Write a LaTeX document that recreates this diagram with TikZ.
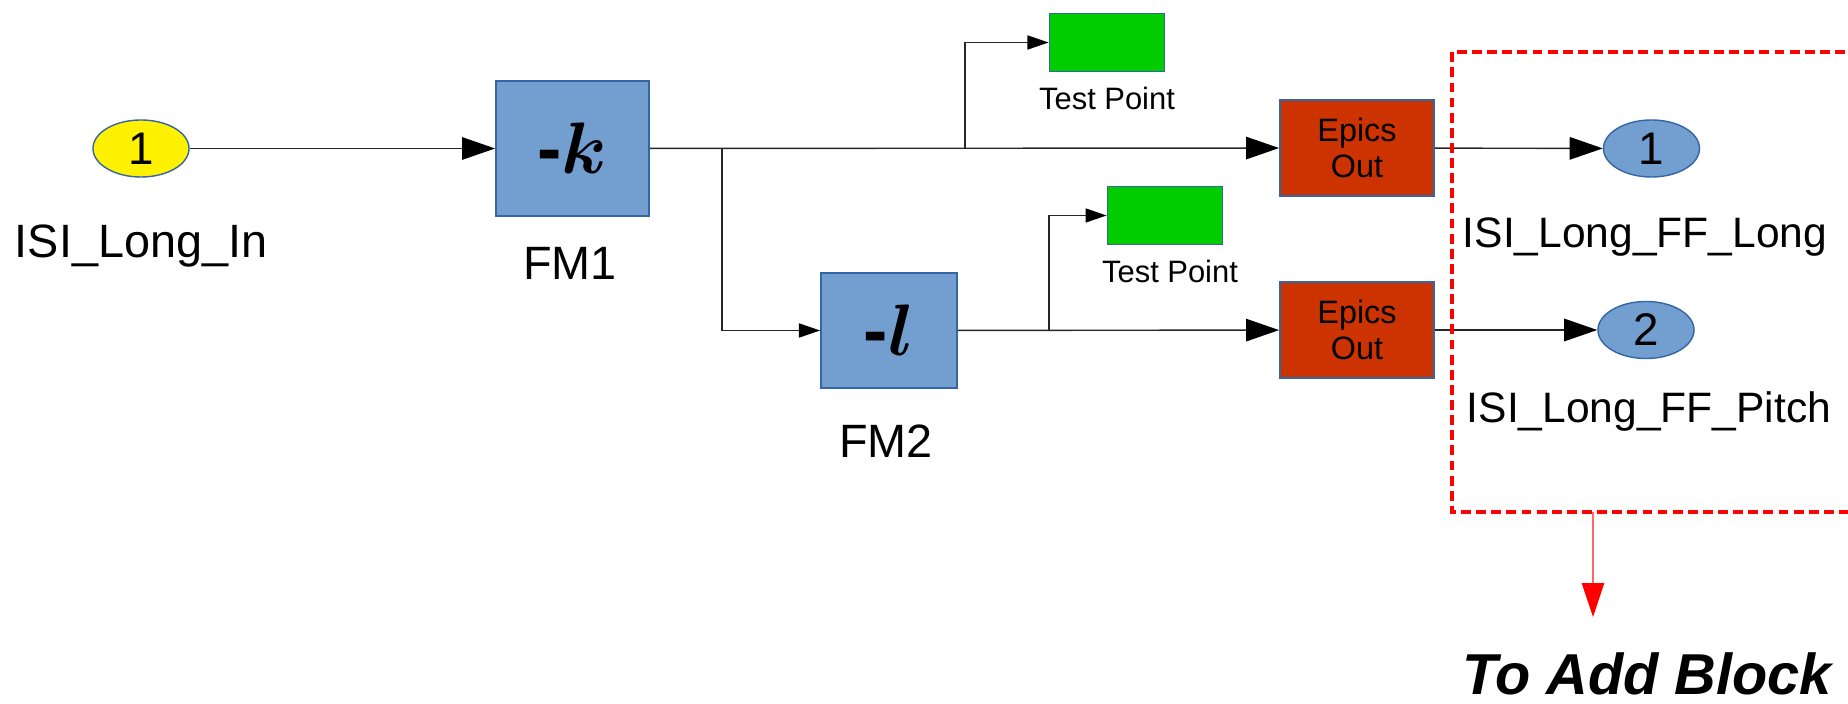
\documentclass[tikz,border=0pt]{standalone}
\usepackage{fontspec}
\setsansfont{Liberation Sans}
\usepackage{bm}
\usetikzlibrary{arrows.meta,shapes.geometric}
\definecolor{blockblue}{HTML}{729FCF}
\definecolor{edgeblue}{HTML}{3465A4}
\definecolor{tpgreen}{HTML}{00CC00}
\definecolor{epicsred}{HTML}{CC3300}
\tikzset{
  gain/.style={draw=edgeblue, fill=blockblue, line width=0.5pt, inner sep=0pt, font=\huge},
  testpt/.style={draw=edgeblue, fill=tpgreen, line width=0.5pt, minimum width=1.15cm, minimum height=0.58cm, inner sep=0pt},
  epics/.style={draw=edgeblue, fill=epicsred, line width=0.5pt, minimum width=1.54cm, minimum height=0.96cm, inner sep=0pt, align=center, font=\sffamily\fontsize{9.2}{10}\selectfont},
  port/.style={ellipse, draw=edgeblue, line width=0.4pt, minimum width=0.96cm, minimum height=0.57cm, inner sep=0pt, font=\sffamily\fontsize{13}{15}\selectfont},
  biglbl/.style={anchor=base, inner sep=0pt, font=\sffamily\fontsize{13.3}{15}\selectfont},
  portlbl/.style={anchor=base, inner sep=0pt, font=\sffamily\fontsize{12.1}{14}\selectfont},
  tplbl/.style={anchor=base, inner sep=0pt, font=\sffamily\fontsize{8.8}{10}\selectfont},
  wire/.style={draw=black!85, line width=0.4pt},
  bigarr/.style={wire, -{Triangle[length=9.4pt, width=6.4pt, color=black]}},
  smallarr/.style={wire, -{Triangle[length=6pt, width=4pt, color=black]}}
}
\begin{document}
\begin{tikzpicture}[x=0.01cm, y=-0.01cm]
\useasboundingbox (0,0) rectangle (1848,704);
\node[port, fill=yellow] (in) at (141,148.5) {1};
\node[biglbl] (inlbl) at (141,258) {ISI\_Long\_In};
\node[gain, minimum width=1.53cm, minimum height=1.35cm] (fm1) at (572.5,148.5) {{\sffamily\bfseries -}$\bm{k}$};
\node[biglbl] (fm1lbl) at (570,280) {FM1};
\node[gain, minimum width=1.36cm, minimum height=1.15cm] (fm2) at (889,330.5) {{\sffamily\bfseries -}$\bm{l}$};
\node[biglbl] (fm2lbl) at (886,458) {FM2};
\node[testpt] (tp1) at (1107,42.5) {};
\node[tplbl] (tp1lbl) at (1107,110) {Test Point};
\node[testpt] (tp2) at (1165,215.5) {};
\node[tplbl] (tp2lbl) at (1170,283) {Test Point};
\node[epics] (epics1) at (1357,148) {Epics\\Out};
\node[epics] (epics2) at (1357,330) {Epics\\Out};
\node[port, fill=blockblue] (out1) at (1651.5,148.5) {1};
\node[portlbl] (out1lbl) at (1645,248) {ISI\_Long\_FF\_Long};
\node[port, fill=blockblue] (out2) at (1646,330) {2};
\node[portlbl] (out2lbl) at (1649,423) {ISI\_Long\_FF\_Pitch};
\node[anchor=base, inner sep=0pt, font=\sffamily\bfseries\itshape\fontsize{16.4}{18}\selectfont] (addblk) at (1647,695) {To Add Block};
\coordinate (b1) at (722,148.5);
\coordinate (b2) at (965,148.5);
\coordinate (b3) at (1049,330.5);
\coordinate (boxbot) at (1593,512);
\coordinate (tip) at (1593,617);
\draw[bigarr] (in) -- (fm1);
\draw[bigarr] (fm1) -- (epics1);
\draw[smallarr] (b1) |- (fm2);
\draw[smallarr] (b2) |- (tp1);
\draw[bigarr] (fm2) -- (epics2);
\draw[smallarr] (b3) |- (tp2);
\draw[bigarr] (epics1) -- (out1);
\draw[bigarr] (epics2) -- (out2);
\draw[red, line width=1.1pt, dash pattern=on 2.8pt off 1.5pt] (1860,52) -- (1452,52) -- (1452,512) -- (1860,512);
\draw[red!60, line width=0.5pt, -{Triangle[length=9.6pt, width=6.3pt, color=red]}] (boxbot) -- (tip);
\end{tikzpicture}
\end{document}
